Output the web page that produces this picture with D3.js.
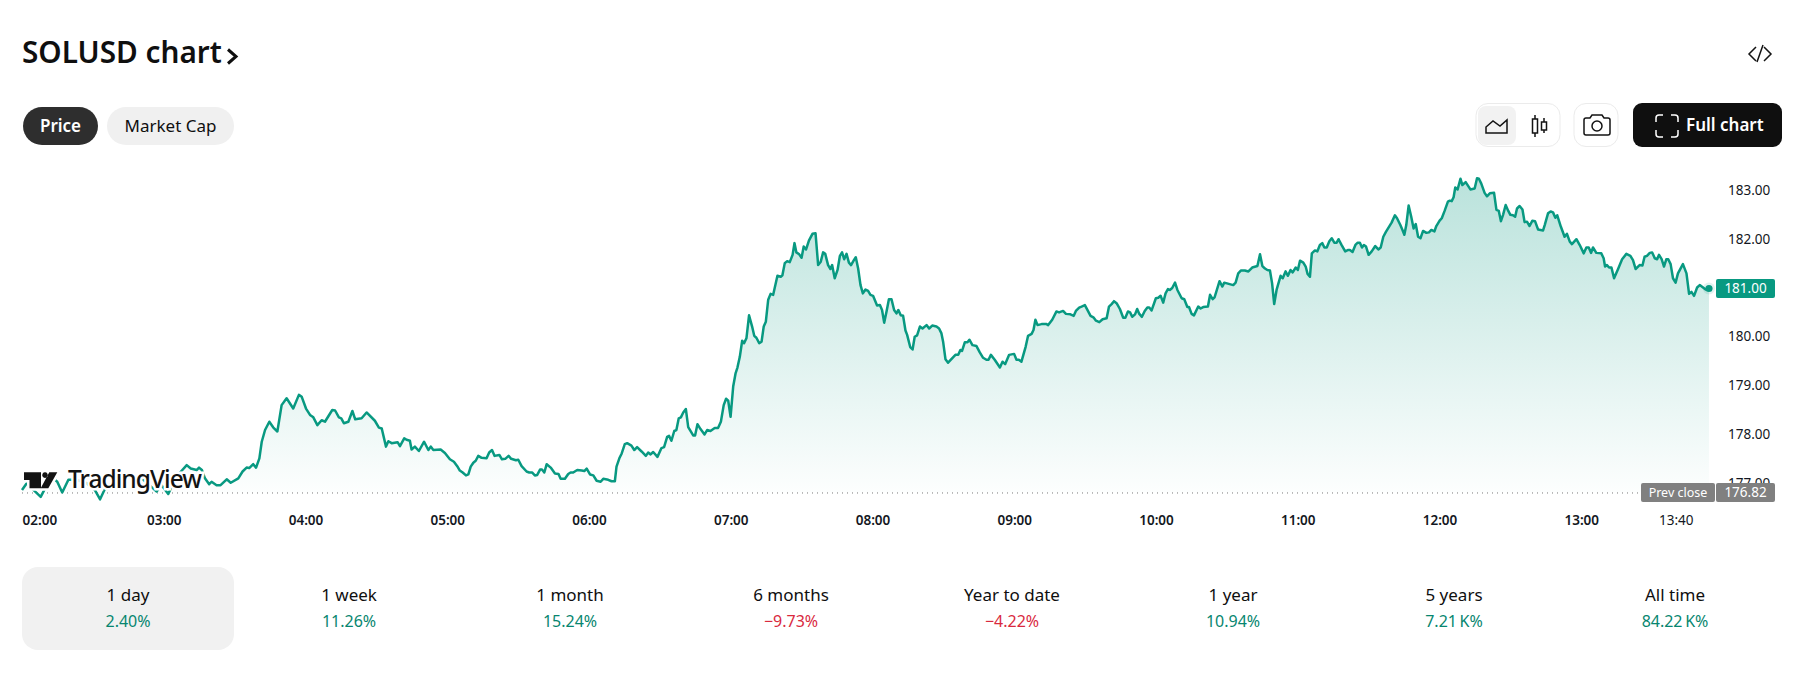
<!DOCTYPE html>
<html><head><meta charset="utf-8">
<script src="https://cdn.jsdelivr.net/npm/d3@7"></script>
<style>
html,body{margin:0;padding:0;background:#fff;overflow:hidden}
text{font-family:"Noto Sans",sans-serif}
</style></head><body><svg id="c" width="1810" height="688"></svg>
<script>
const minutes=[0,2,3.4,7.9,9.7,13.2,14.9,17,19.6,23.1,27.3,30.8,33,35.1,40,47,51.3,54.8,56.9,59,61.8,64.6,66.8,69.6,71.3,73.8,74.8,76,77.3,79.1,80.1,82.2,83.9,86.5,88.2,91.4,93.2,94.9,96,97.7,98.9,100.3,101.3,102.7,104.5,106.2,107.9,109.7,111.8,114.6,117,118.2,120,121.7,123.1,124.8,126.6,128,131.1,132.3,133.9,134.9,136,137.9,139.6,140.8,143.5,145.6,149.1,150.8,152,153.8,154.8,156.2,158.7,159.7,161.5,162.5,163.9,164.6,166,167.7,169.9,171.7,172.7,173.8,176.9,178.7,180.8,
182.5,183.9,185,186.2,187.6,188.6,189.6,190.7,191.7,192.8,194.2,196.3,197.4,198.6,199.7,201.7,202.8,204.2,205.6,206.7,208.7,209.7,211.1,213.2,214.3,215.5,216.7,217.7,218.9,219.7,220.7,221.7,223.4,225.2,226.7,227.6,229.4,230.8,231.8,232.9,234.6,236.5,237.6,238.6,240,241.4,242.8,244.5,245.6,247.7,249.1,250.5,251.2,252.4,253.4,
254.7,255.7,257.5,258.7,259.9,261.8,263.6,264.6,265.6,266.7,268.5,270.2,271.3,272.6,273.4,274.4,275.6,276.5,277.5,278.4,279.4,280.5,281.5,283.6,284.4,285.4,286.7,288.4,289.5,290.9,292.7,294.1,295.3,296.5,297.5,298.4,299.4,300.5,301.5,302.3,303.3,304.3,305.1,306.1,307.2,308.5,309.4,310.3,311.5,312.5,313.4,314.3,315.3,316.3,317.4,319.2,320.6,321.3,322.3,323.3,324.4,325.6,326.4,327.2,328.4,329.4,330.3,331.3,332.5,334,335.3,336.4,337.5,338.5,339.4,340.6,341.6,342.3,343.4,344.6,345.6,346.5,347.4,348.4,349.4,350.3,351.5,352.3,353.3,354.3,355.3,356.4,357.5,358.5,359.6,361.3,362.5,363.4,364.3,365.3,366.3,367.4,368.5,369.5,370.3,371.3,372.3,373.3,374,375.3,376.3,377.2,378.2,379.4,380.5,382.2,383.3,384.6,386.4,387.5,388.5,389.2,390.2,391.3,393.4,394.4,395.6,396.5,397.2,398.4,399.5,400.3,401.6,403.3,404.7,406.1,407.5,408.4,409.4,411,413.2,414.3,415.4,417.1,419.2,420.2,421.2,422.3,424.1,425.1,426.6,427.4,428.2,429.1,430.8,432.9,433.6,435.3,437.1,438.2,439.9,441.1,443,444.4,445.3,446.7,
447.7,449.1,450.5,451.5,452.7,453.8,455.2,456.6,458.3,459.3,460.4,461.4,462.5,463.9,465.3,466.2,467.3,468.2,469.1,470.3,471.2,472.1,473.2,474.4,475.5,476.3,477.3,479.1,480.1,481.1,482.2,483.2,484.2,485,486,487.2,488.2,490,491.1,492.4,493.1,494.2,495.2,497,498,499.1,501.1,502,503.1,503.9,506,507.2,508,511.8,512.8,513.9,515.1,516.7,518.2,519.8,522,523.1,524.1,525.2,526.2,527.3,528.2,529.1,530.1,531.8,532.7,533.9,534.9,536,536.9,538.2,539.1,540,541.4,542.4,543.2,544.2,545,546.3,547.3,548.4,549.4,550.3,551.3,552.4,553.4,554.5,555.5,556.3,557.6,559.1,560.4,561.1,562.2,563.5,564.4,565.3,566.2,567,567.9,569,570.3,571.8,573.1,574.1,575.2,576.3,578.7,580.1,
581,582.4,583.3,584.1,584.9,585.9,587,588,588.9,589.9,590.9,592,593.4,594.5,595.5,596.8,597.6,599,599.9,601.1,602.5,603.3,604.1,604.9,605.6,606.6,607.8,608.6,610,612,613.8,614.8,615.6,616.6,618,619,620.2,622,623,624,624.9,625.8,626.9,628,628.9,630,630.9,631.7,632.8,634,634.9,635.9,637,638.2,639.3,640.6,642.7,643.4,644.8,645.9,646.9,647.9,648.7,650.2,651.8,652.8,654,654.9,656.8,658.2,659.9,661,662,663,663.8,665.2,667.3,668.3,668.9,669.7,670.6,671.6,672.7,674.4,676.1,677.9,679.6,680.7,681.8,683.5,684.7,685.6,686.6,687.8,688.8,689.9,690.9,691.7,692.8,693.8,694.8,695.6,696.6,697.6,698.7,699.7,701.8,703.3,704.4,705.4,706.5,707.8,708.9,710.3,711.4,712.8];
const prices=[176.87,177.01,176.94,176.73,176.90,177.11,177.04,176.82,177.08,177.08,177.01,176.87,176.68,176.90,177.08,177.14,177.08,176.93,176.84,176.97,176.79,177.08,177.23,177.38,177.31,177.28,177.33,177.28,177.11,176.99,177.04,176.97,176.97,177.09,177.02,177.11,177.25,177.33,177.32,177.40,177.33,177.52,177.86,178.10,178.27,178.15,178.07,178.61,178.75,178.54,178.82,178.78,178.54,178.41,178.36,178.20,178.30,178.27,178.51,178.50,178.36,178.34,178.24,178.27,178.49,178.32,178.34,178.46,178.29,178.15,178.13,177.76,177.87,177.83,177.85,177.77,177.93,177.90,177.88,177.70,177.76,177.67,177.86,177.69,177.76,177.69,177.70,177.63,177.50,
177.45,177.36,177.27,177.23,177.17,177.19,177.35,177.43,177.47,177.57,177.53,177.52,177.64,177.69,177.57,177.59,177.50,177.51,177.57,177.51,177.48,177.49,177.36,177.25,177.23,177.23,177.17,177.18,177.29,177.29,177.23,177.40,177.33,177.21,177.20,177.10,177.10,177.20,177.23,177.23,177.28,177.27,177.26,177.31,177.19,177.17,177.06,177.04,177.10,177.08,177.05,177.05,177.35,177.52,177.62,
177.81,177.83,177.78,177.69,177.75,177.66,177.57,177.64,177.60,177.65,177.55,177.73,177.75,177.96,177.98,177.88,178.08,178.10,178.34,178.36,178.46,178.53,178.16,177.99,177.99,178.22,178.12,178.01,178.10,178.08,178.14,178.14,178.27,178.61,178.74,178.70,178.37,178.99,179.26,179.38,179.60,179.93,179.88,179.98,180.45,180.22,180.03,179.99,179.88,179.91,180.22,180.32,180.77,180.89,180.87,181.26,181.24,181.27,181.52,181.56,181.54,181.69,181.93,181.74,181.70,181.63,181.86,181.80,181.98,182.12,182.13,181.48,181.55,181.74,181.71,181.48,181.40,181.48,181.21,181.38,181.67,181.74,181.60,181.71,181.53,181.48,181.58,181.64,181.41,181.07,180.90,180.98,180.95,180.87,180.85,180.65,180.66,180.56,180.30,180.53,180.78,180.78,180.56,180.49,180.56,180.45,180.44,180.14,180.05,179.80,179.75,180.01,180.04,180.22,180.18,180.25,180.18,180.24,180.22,180.18,180.08,179.91,179.55,179.48,179.59,179.64,179.64,179.74,179.72,179.90,179.90,179.95,179.84,179.82,179.69,179.58,179.54,179.54,179.64,179.54,179.38,179.50,179.45,179.64,179.66,179.54,179.54,179.50,179.81,180.03,180.07,180.15,180.36,180.25,180.27,180.27,180.25,180.36,180.53,180.51,180.54,180.48,180.47,180.44,180.54,180.61,
180.63,180.66,180.53,180.44,180.41,180.34,180.31,180.37,180.39,180.63,180.68,180.74,180.70,180.58,180.40,180.40,180.53,180.51,180.42,180.47,180.58,180.48,180.42,180.54,180.61,180.61,180.55,180.80,180.81,180.85,180.71,180.90,180.99,180.97,181.01,181.12,180.97,180.80,180.78,180.62,180.62,180.48,180.45,180.63,180.59,180.62,180.63,180.87,180.78,180.82,181.15,181.04,181.12,181.07,181.12,181.31,181.37,181.37,181.35,181.43,181.46,181.70,181.46,181.41,181.38,181.37,181.11,180.68,180.97,181.26,181.21,181.35,181.26,181.38,181.33,181.43,181.38,181.57,181.53,181.45,181.30,181.24,181.72,181.78,181.76,181.89,181.93,181.84,181.84,181.97,182.03,181.94,181.94,182.01,181.89,181.76,181.79,181.79,181.75,181.90,181.94,181.94,181.84,181.89,181.86,181.69,181.76,181.87,181.80,181.84,182.06,182.16,182.35,182.50,
182.44,182.30,182.20,182.10,182.30,182.70,182.47,182.23,182.32,182.06,182.03,182.18,182.14,182.15,182.20,182.17,182.28,182.39,182.44,182.59,182.78,182.80,182.79,182.87,183.07,183.03,183.25,183.12,183.18,183.03,183.05,183.26,183.25,183.15,182.96,182.89,182.95,182.96,182.61,182.59,182.38,182.51,182.71,182.59,182.51,182.50,182.47,182.64,182.69,182.62,182.36,182.37,182.28,182.39,182.38,182.21,182.19,182.30,182.54,182.58,182.56,182.45,182.50,182.27,182.06,182.12,181.96,181.91,182.01,181.89,181.72,181.84,181.84,181.73,181.84,181.73,181.72,181.62,181.45,181.48,181.43,181.43,181.21,181.40,181.60,181.71,181.67,181.58,181.40,181.48,181.47,181.65,181.67,181.73,181.74,181.62,181.60,181.69,181.60,181.45,181.60,181.60,181.50,181.21,181.12,181.31,181.50,181.31,180.89,180.93,180.85,181.02,181.07,181.02,180.98,181.00];
const priceTicks=[177,178,179,180,181,182,183];
const timeTickMinutes=[0,60,120,180,240,300,360,420,480,540,600,660,700];
const timeTickLabels=["02:00","03:00","04:00","05:00","06:00","07:00","08:00","09:00","10:00","11:00","12:00","13:00","13:40"];
const prevClose=176.82, lastPrice=181.00;
const tabNames=["1 day","1 week","1 month","6 months","Year to date","1 year","5 years","All time"];
const tabValues=["2.40%","11.26%","15.24%","−9.73%","−4.22%","10.94%","7.21\u202fK%","84.22\u202fK%"];

const GREEN="#089981", svg=d3.select("#c");
const x=d3.scaleLinear().domain([0,60]).range([22,164]);
const tickX=d3.scaleLinear().domain([0,60]).range([22,163.75]);
const y=d3.scaleLinear().domain([180,181]).range([337.3,288.5]);
const pts=minutes.map((m,i)=>[m,prices[i]]);

const defs=svg.append("defs");
const g=defs.append("linearGradient").attr("id","fill").attr("gradientUnits","userSpaceOnUse")
  .attr("x1",0).attr("x2",0).attr("y1",y(d3.max(prices))).attr("y2",y(prevClose));
g.append("stop").attr("offset",0).attr("stop-color",GREEN).attr("stop-opacity",.28);
g.append("stop").attr("offset",1).attr("stop-color",GREEN).attr("stop-opacity",.01);

// axes
const yAxis=svg.append("g").attr("transform","translate(1722,0)")
  .call(d3.axisRight(y).tickValues(priceTicks).tickSize(0).tickPadding(6).tickFormat(d3.format(".2f")));
yAxis.select(".domain").remove();
yAxis.selectAll("text").attr("font-size",13.5).attr("fill","#131722").attr("font-family",'"Noto Sans"').attr("dy","0.25em");

const xAxis=svg.append("g").attr("transform","translate(0,514)")
  .call(d3.axisBottom(tickX).tickValues(timeTickMinutes).tickSize(0).tickPadding(0).tickFormat((d,i)=>timeTickLabels[i]));
xAxis.select(".domain").remove();
xAxis.selectAll("text").attr("font-size",13.5).attr("fill","#131722").attr("font-family",'"Noto Sans"')
  .attr("dy","0.8em").attr("font-weight",(d,i)=>i==timeTickLabels.length-1?400:600)
  .attr("text-anchor",(d,i)=>i==0?"start":"middle");

// chart
const base=y(prevClose);
svg.append("path").datum(pts).attr("fill","url(#fill)")
  .attr("d",d3.area().x(d=>x(d[0])).y0(base).y1(d=>Math.min(y(d[1]),base)));
svg.append("line").attr("x1",22).attr("x2",1641).attr("y1",base+.5).attr("y2",base+.5)
  .attr("stroke","#787878").attr("stroke-dasharray","1 4");
svg.append("path").datum(pts).attr("fill","none").attr("stroke",GREEN).attr("stroke-width",2.5).attr("stroke-linejoin","round")
  .attr("d",d3.line().x(d=>x(d[0])).y(d=>y(d[1])));
const lx=x(minutes[minutes.length-1]);
svg.append("circle").attr("cx",lx).attr("cy",y(lastPrice)).attr("r",6).attr("fill",GREEN).attr("opacity",.12);
svg.append("circle").attr("cx",lx).attr("cy",y(lastPrice)).attr("r",3.6).attr("fill",GREEN);

// watermark
const wm=svg.append("g");
const iconPath="M24 472.3H41V488.3H29.5V480H24ZM49.3 472.3H57.3L48.3 488.3H40.7ZM45 472.3a2.8 2.8 0 1 0 .01 0Z";
wm.append("path").attr("d",iconPath).attr("fill","#fff").attr("stroke","#fff").attr("stroke-width",5);
wm.append("text").attr("x",68).attr("y",488).attr("font-size",24.5).attr("font-weight",500).attr("font-family","Inter")
  .attr("stroke","#fff").attr("stroke-width",5).attr("fill","#fff").attr("textLength",134).text("TradingView");
wm.append("path").attr("d",iconPath).attr("fill","#131313");
wm.append("text").attr("x",68).attr("y",488).attr("font-size",24.5).attr("font-weight",500).attr("font-family","Inter")
  .attr("fill","#131313").attr("textLength",134).text("TradingView");

// price tags
function tag(x0,w,y0,fill,txt,fs){
  svg.append("rect").attr("x",x0).attr("y",y0).attr("width",w).attr("height",19).attr("rx",2).attr("fill",fill);
  svg.append("text").attr("x",x0+w/2).attr("y",y0+14).attr("text-anchor","middle").attr("font-size",fs||13.5).attr("fill","#fff").text(txt);
}
tag(1716,59,y(lastPrice)-9.5,GREEN,d3.format(".2f")(lastPrice));
tag(1641,74,base-9.5,"#808080","Prev close",12.5);
tag(1716,59,base-9.5,"#808080",d3.format(".2f")(prevClose));

// header
svg.append("text").attr("x",22).attr("y",63).attr("font-size",29.7).attr("font-weight",600).attr("fill","#0f0f0f").text("SOLUSD chart");
svg.append("path").attr("d","M228 49.5L236 56.5L228 63.5").attr("fill","none").attr("stroke","#0f0f0f").attr("stroke-width",3);
function pill(x0,w,fill,col,txt,wt){
  svg.append("rect").attr("x",x0).attr("y",107).attr("width",w).attr("height",38).attr("rx",19).attr("fill",fill);
  svg.append("text").attr("x",x0+w/2).attr("y",131.5).attr("text-anchor","middle").attr("font-size",17).attr("font-weight",wt).attr("fill",col).text(txt);
}
pill(23,75,"#2e2e2e","#fff","Price",600);
pill(107,127,"#f0f0f0","#0f0f0f","Market Cap",400);

const ic="#131313";
svg.append("path").attr("d","M1756 47L1749 54L1756 61M1764 47L1771 54L1764 61M1763 45L1757 62").attr("fill","none").attr("stroke",ic).attr("stroke-width",1.5);
svg.append("rect").attr("x",1476).attr("y",103.5).attr("width",84).attr("height",43).attr("rx",12).attr("fill","#fff").attr("stroke","#ebebeb");
svg.append("rect").attr("x",1478).attr("y",106).attr("width",38).attr("height",39).attr("rx",8).attr("fill","#f2f2f2");
svg.append("path").attr("d","M1486 133V127L1493 121L1500 126L1507 120V133Z").attr("fill","none").attr("stroke",ic).attr("stroke-width",1.5);
svg.append("path").attr("d","M1535 115V119M1535 133V137M1544 118V122M1544 130V133M1532.5 119h5v14h-5zM1541.5 122h5v8h-5z").attr("fill","none").attr("stroke",ic).attr("stroke-width",1.5);
svg.append("rect").attr("x",1574).attr("y",103.5).attr("width",44).attr("height",43).attr("rx",12).attr("fill","#fff").attr("stroke","#ebebeb");
svg.append("path").attr("d","M1586 118h4l2-3h10l2 3h4a2 2 0 0 1 2 2v13a2 2 0 0 1-2 2h-22a2 2 0 0 1-2-2v-13a2 2 0 0 1 2-2z").attr("fill","none").attr("stroke",ic).attr("stroke-width",1.5);
svg.append("circle").attr("cx",1597).attr("cy",126).attr("r",5).attr("fill","none").attr("stroke",ic).attr("stroke-width",1.5);
svg.append("rect").attr("x",1633).attr("y",103).attr("width",149).attr("height",44).attr("rx",9).attr("fill","#0f0f0f");
svg.append("path").attr("d","M1663 115h-4a3 3 0 0 0-3 3v4M1671 115h4a3 3 0 0 1 3 3v4M1663 137h-4a3 3 0 0 1-3-3v-4M1671 137h4a3 3 0 0 0 3-3v-4").attr("fill","none").attr("stroke","#fff").attr("stroke-width",1.5);
svg.append("text").attr("x",1686).attr("y",131).attr("font-size",17).attr("font-weight",600).attr("fill","#fff").text("Full chart");

// tabs
const tabX=d3.scalePoint().domain(tabNames).range([128,1675]);
svg.append("rect").attr("x",22).attr("y",567).attr("width",212).attr("height",83).attr("rx",16).attr("fill","#f1f1f1");
const tabs=svg.append("g").selectAll("g").data(tabNames).join("g").attr("transform",d=>`translate(${tabX(d)},0)`);
tabs.append("text").attr("y",601).attr("text-anchor","middle").attr("font-size",17).attr("fill","#0f0f0f").text(d=>d);
tabs.append("text").attr("y",627).attr("text-anchor","middle").attr("font-size",16)
  .attr("fill",(d,i)=>tabValues[i][0]=="−"?"#d9293e":"#07866f").text((d,i)=>tabValues[i]);
</script></body></html>
